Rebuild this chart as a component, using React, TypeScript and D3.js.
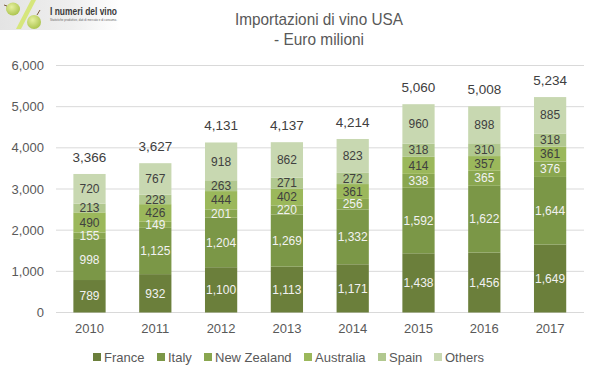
import React from "react";
import * as d3 from "d3";

const years = ["2010", "2011", "2012", "2013", "2014", "2015", "2016", "2017"];
const seriesNames = ["France", "Italy", "New Zealand", "Australia", "Spain", "Others"];
const france = [789, 932, 1100, 1113, 1171, 1438, 1456, 1649];
const italy = [998, 1125, 1204, 1269, 1332, 1592, 1622, 1644];
const newZealand = [155, 149, 201, 220, 256, 338, 365, 376];
const australia = [490, 426, 444, 402, 361, 414, 357, 361];
const spain = [213, 228, 263, 271, 272, 318, 310, 318];
const others = [720, 767, 918, 862, 823, 960, 898, 885];
const totals = [3366, 3627, 4131, 4137, 4214, 5060, 5008, 5234];
const yTicks = [0, 1000, 2000, 3000, 4000, 5000, 6000];

const colors = ["#6b7f3b", "#7b9747", "#89a64f", "#9bb85b", "#b1c88f", "#c8d8b1"];
const labelColors = ["#f2f2f2", "#f2f2f2", "#f2f2f2", "#404040", "#404040", "#404040"];

const W = 595;
const H = 378;
const FONT = "'Liberation Sans', Arial, sans-serif";

export default function App() {
  const seriesValues = [france, italy, newZealand, australia, spain, others];
  const rows = years.map((y, i) => {
    const r: any = { year: y };
    seriesNames.forEach((s, k) => (r[s] = seriesValues[k][i]));
    return r;
  });
  const stacked = d3.stack().keys(seriesNames)(rows);

  const x = d3.scaleBand().domain(years).range([56.6, 583]).paddingInner(0.51).paddingOuter(0.255);
  const y = d3.scaleLinear().domain([0, 6000]).range([312.5, 65.5]);
  const fmt = d3.format(",");

  const legendX = [93, 157, 204, 304, 378, 434];

  return (
    <svg width={W} height={H} style={{ position: "absolute", left: 0, top: 0, background: "#fff" }}>
      <defs>
        <linearGradient id="logoBg" x1="0" y1="0" x2="1" y2="0">
          <stop offset="0" stopColor="#e4e4e4" />
          <stop offset="0.6" stopColor="#efefef" />
          <stop offset="1" stopColor="#ffffff" />
        </linearGradient>
        <radialGradient id="grape" cx="0.4" cy="0.35" r="0.7">
          <stop offset="0" stopColor="#e6f0a0" />
          <stop offset="1" stopColor="#a9c24a" />
        </radialGradient>
      </defs>
      <rect x={0} y={0} width={W} height={H} fill="#fff" />
      {/* logo */}
      <rect x={0} y={0} width={120} height={30} fill="url(#logoBg)" />
      <ellipse cx={13} cy={9} rx={7} ry={6.5} fill="url(#grape)" />
      <line x1={4} y1={5} x2={7} y2={6} stroke="#7a5a3a" strokeWidth={1} />
      <polygon points="31,0 36,0 21,29 16,29" fill="#d6e67c" />
      <ellipse cx={34} cy={22} rx={7} ry={7} fill="url(#grape)" />
      <line x1={37} y1={15} x2={40} y2={10} stroke="#7a5a3a" strokeWidth={1} />
      <text x={50} y={15} fontFamily={FONT} fontSize={10} fontWeight="bold" fill="#3a3a3a" textLength={67} lengthAdjust="spacingAndGlyphs">
        I numeri del vino
      </text>
      <text x={50} y={21} fontFamily={FONT} fontSize={3} fill="#666" textLength={67} lengthAdjust="spacingAndGlyphs">
        Statistiche produttive, dati di mercato e di consumo.
      </text>
      {/* title */}
      <text x={319} y={25} textAnchor="middle" fontFamily={FONT} fontSize={17} fill="#595959" textLength={168} lengthAdjust="spacingAndGlyphs">
        Importazioni di vino USA
      </text>
      <text x={319} y={45} textAnchor="middle" fontFamily={FONT} fontSize={17} fill="#595959" textLength={90} lengthAdjust="spacingAndGlyphs">
        - Euro milioni
      </text>
      {/* gridlines */}
      {yTicks.map((t) => (
        <g key={t}>
          <line x1={56} x2={584} y1={y(t)} y2={y(t)} stroke="#d9d9d9" strokeWidth={1} />
          <text x={44} y={y(t)} dy="0.35em" textAnchor="end" fontFamily={FONT} fontSize={13} fill="#595959">
            {fmt(t)}
          </text>
        </g>
      ))}
      {/* bars */}
      {stacked.map((s, k) => (
        <g key={s.key}>
          {s.map((d, i) => (
            <rect key={i} x={x(years[i])} width={x.bandwidth()} y={y(d[1])} height={y(d[0]) - y(d[1])} fill={colors[k]} />
          ))}
        </g>
      ))}
      {stacked.map((s, k) => (
        <g key={"l" + s.key}>
          {s.map((d, i) => (
            <text key={i} x={x(years[i])! + x.bandwidth() / 2} y={(y(d[0]) + y(d[1])) / 2} dy="0.35em" textAnchor="middle" fontFamily={FONT} fontSize={12} fill={labelColors[k]}>
              {fmt(d[1] - d[0])}
            </text>
          ))}
        </g>
      ))}
      {/* totals */}
      {years.map((yr, i) => (
        <text key={yr} x={x(yr)! + x.bandwidth() / 2} y={y(stacked[5][i][1]) - 12} textAnchor="middle" fontFamily={FONT} fontSize={13.5} fill="#404040">
          {fmt(totals[i])}
        </text>
      ))}
      {/* x labels */}
      {years.map((yr) => (
        <text key={"x" + yr} x={x(yr)! + x.bandwidth() / 2} y={333} textAnchor="middle" fontFamily={FONT} fontSize={13} fill="#595959">
          {yr}
        </text>
      ))}
      {/* legend */}
      {seriesNames.map((s, k) => (
        <g key={"lg" + s}>
          <rect x={legendX[k]} y={353} width={8} height={8} fill={colors[k]} />
          <text x={legendX[k] + 11} y={361.5} fontFamily={FONT} fontSize={13} fill="#595959">
            {s}
          </text>
        </g>
      ))}
    </svg>
  );
}
